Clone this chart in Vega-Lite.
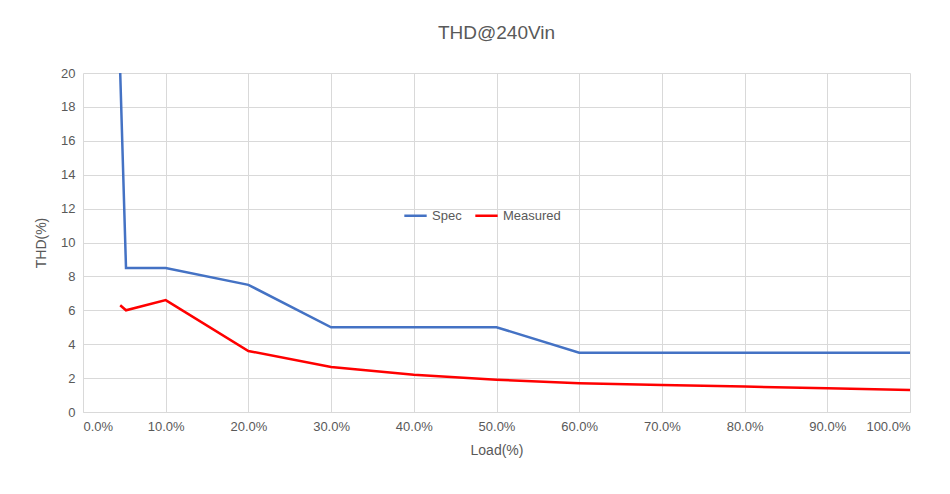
{
  "$schema": "https://vega.github.io/schema/vega-lite/v6.json",
  "autosize": {"type": "none"},
  "padding": {"left": 83, "top": 73, "right": 40, "bottom": 82},
  "width": 827,
  "height": 339,
  "background": "white",
  "title": {"text": "THD@240Vin", "fontSize": 19, "font": "Liberation Sans", "fontWeight": "normal", "color": "#595959", "offset": 24},
  "config": {
    "view": {"stroke": null},
    "axis": {"labelFont": "Liberation Sans", "titleFont": "Liberation Sans", "labelColor": "#595959", "titleColor": "#595959", "labelFontSize": 13, "titleFontSize": 14, "titleFontWeight": "normal", "gridColor": "#d9d9d9", "domainColor": "#d9d9d9", "ticks": false, "labelOverlap": false}
  },
  "data": {"values": [
    {"load": 0.045, "thd": 20, "series": "Spec"},
    {"load": 0.052, "thd": 8.5, "series": "Spec"},
    {"load": 0.10, "thd": 8.5, "series": "Spec"},
    {"load": 0.20, "thd": 7.5, "series": "Spec"},
    {"load": 0.30, "thd": 5, "series": "Spec"},
    {"load": 0.50, "thd": 5, "series": "Spec"},
    {"load": 0.60, "thd": 3.5, "series": "Spec"},
    {"load": 1.00, "thd": 3.5, "series": "Spec"},
    {"load": 0.045, "thd": 6.3, "series": "Measured"},
    {"load": 0.052, "thd": 6.0, "series": "Measured"},
    {"load": 0.10, "thd": 6.6, "series": "Measured"},
    {"load": 0.20, "thd": 3.6, "series": "Measured"},
    {"load": 0.30, "thd": 2.65, "series": "Measured"},
    {"load": 0.40, "thd": 2.2, "series": "Measured"},
    {"load": 0.50, "thd": 1.9, "series": "Measured"},
    {"load": 0.60, "thd": 1.7, "series": "Measured"},
    {"load": 0.70, "thd": 1.6, "series": "Measured"},
    {"load": 0.80, "thd": 1.5, "series": "Measured"},
    {"load": 0.90, "thd": 1.4, "series": "Measured"},
    {"load": 1.00, "thd": 1.3, "series": "Measured"}
  ]},
  "mark": {"type": "line", "strokeWidth": 2.5, "clip": true},
  "encoding": {
    "x": {"field": "load", "type": "quantitative", "title": "Load(%)", "scale": {"domain": [0, 1], "nice": false}, "axis": {"format": ".1%", "values": [0,0.1,0.2,0.3,0.4,0.5,0.6,0.7,0.8,0.9,1], "labelPadding": 8, "titlePadding": 10}},
    "y": {"field": "thd", "type": "quantitative", "title": "THD(%)", "scale": {"domain": [0, 20], "nice": false}, "axis": {"values": [0,2,4,6,8,10,12,14,16,18,20], "domain": false, "labelPadding": 8, "titlePadding": 12}},
    "color": {"field": "series", "type": "nominal", "scale": {"domain": ["Spec", "Measured"], "range": ["#4472C4", "#FF0000"]},
      "legend": {"title": null, "orient": "none", "legendX": 320, "legendY": 130, "direction": "horizontal", "symbolType": "stroke", "symbolStrokeWidth": 2.5, "symbolSize": 500, "labelFont": "Liberation Sans", "labelFontSize": 13, "labelColor": "#595959", "columnPadding": 8}},
    "order": {"field": "load"}
  }
}
